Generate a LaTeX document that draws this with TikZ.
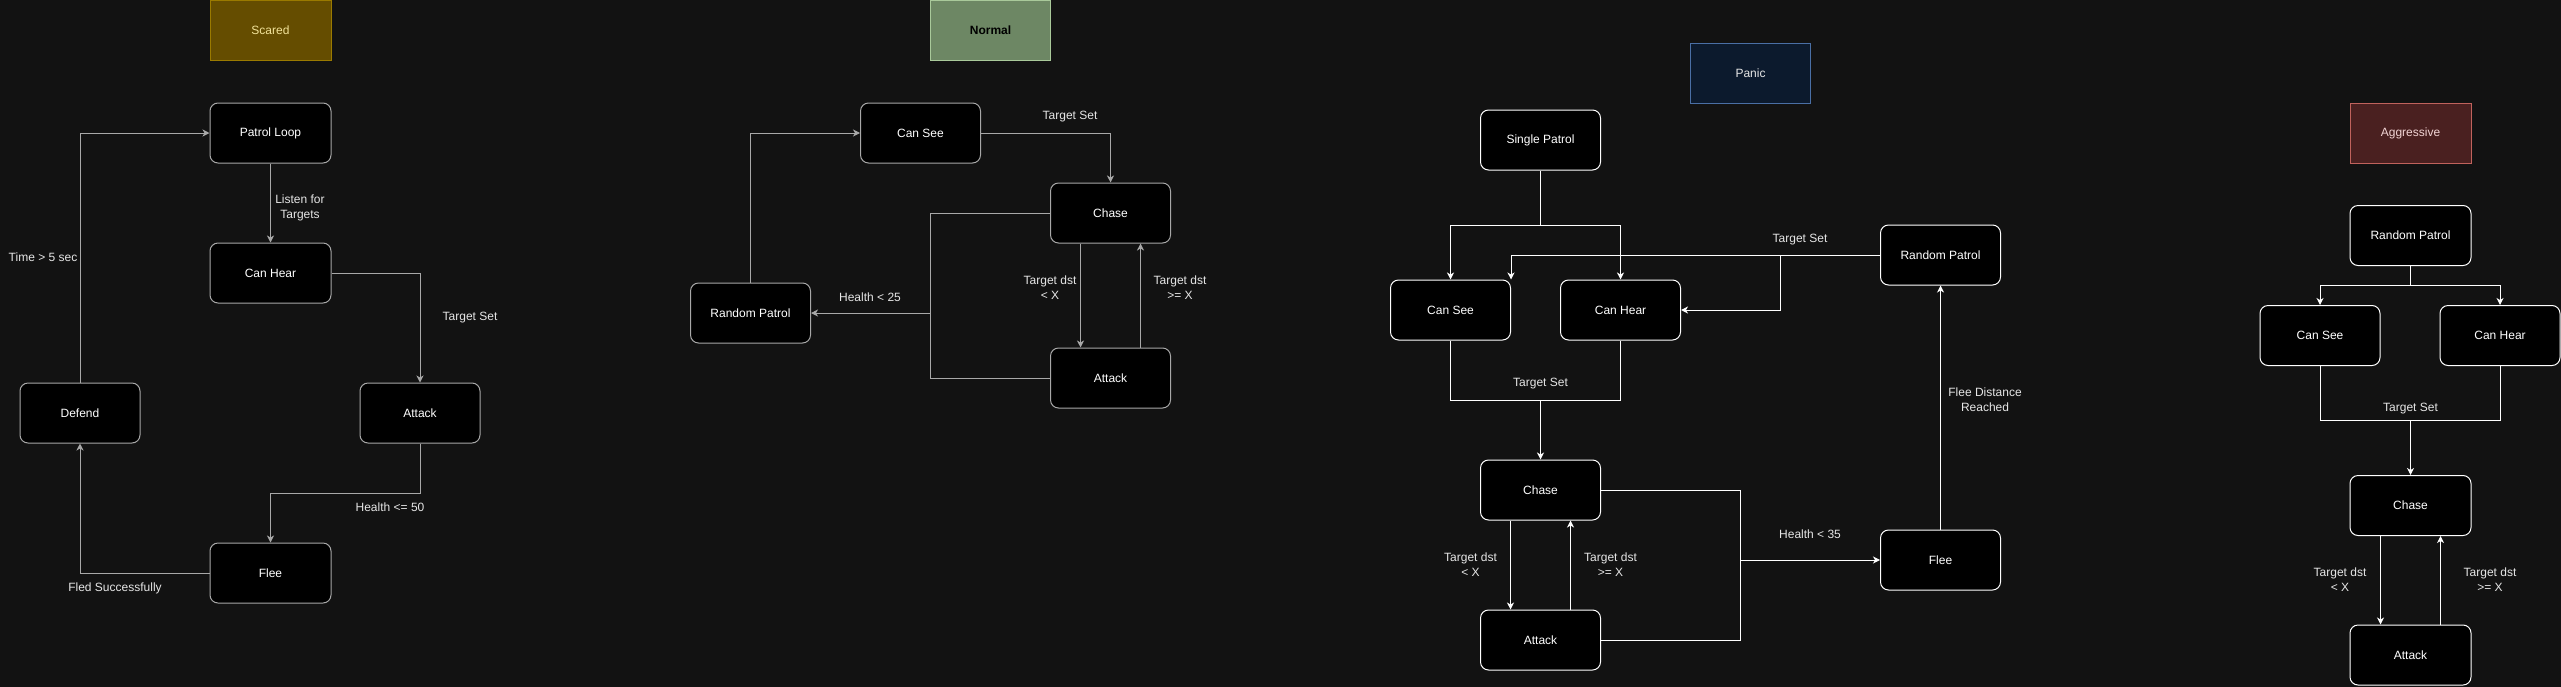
\documentclass[tikz,border=0pt]{standalone}
\usepackage{fontspec}
\setmainfont{Liberation Sans}
\usetikzlibrary{arrows.meta}
\definecolor{bgDark}{HTML}{121212}
\definecolor{lineGray}{HTML}{A8A8A8}
\definecolor{lblText}{HTML}{E6E6E6}
\definecolor{scaredFill}{HTML}{654D00}
\definecolor{scaredLine}{HTML}{9A7A00}
\definecolor{scaredText}{HTML}{F2E39A}
\definecolor{normalFill}{HTML}{6D8764}
\definecolor{normalLine}{HTML}{A9C99A}
\definecolor{panicFill}{HTML}{0C1A2D}
\definecolor{panicLine}{HTML}{4A6FA5}
\definecolor{aggrFill}{HTML}{4A2020}
\definecolor{aggrLine}{HTML}{C0625C}
\definecolor{aggrText}{HTML}{F2D4D4}
\tikzset{
	x=1pt,y=-1pt,
	every node/.style={font=\fontsize{12}{15}\selectfont},
	state/.style={draw=#1,fill=black,text=white,rounded corners=8pt,line width=1pt,inner sep=0pt,minimum width=120pt,minimum height=60pt},
	title/.style 2 args={draw=#1,fill=#2,line width=1pt,inner sep=0pt,minimum width=120pt,minimum height=60pt},
	lbl/.style={text=lblText,align=center,inner sep=0pt},
	flow/.style={draw=#1,line width=1pt,-{Stealth[length=7pt,width=7pt,inset=2pt]}},
	link/.style={draw=#1,line width=1pt},
}
\begin{document}
\begin{tikzpicture}
	\useasboundingbox (0,0) rectangle (2561,686);
	\fill[bgDark](-5,-5) rectangle (2566,691);
	% Scared
	\node[title={scaredLine}{scaredFill},minimum width=121pt,text=scaredText](stitle) at (270.5,30){Scared};
	\node[state=lineGray,minimum width=121pt](spatrol) at (270.5,133){Patrol Loop};
	\node[state=lineGray,minimum width=121pt](shear) at (270.5,273){Can Hear};
	\node[state=lineGray](sattack) at (420,413){Attack};
	\node[state=lineGray](sdefend) at (80,413){Defend};
	\node[state=lineGray,minimum width=121pt](sflee) at (270.5,573){Flee};
	\coordinate(sbend) at (270.5,493);
	\draw[flow=lineGray](spatrol)--(shear);
	\draw[flow=lineGray](shear.east)-|(sattack.north);
	\draw[flow=lineGray](sattack.south)|-(sbend)--(sflee.north);
	\draw[flow=lineGray](sflee.west)-|(sdefend.south);
	\draw[flow=lineGray](sdefend.north)|-(spatrol.west);
	\node[lbl](slisten) at (300,208){Listen for\\Targets};
	\node[lbl](sset) at (470,318){Target Set};
	\node[lbl](shealth) at (390,507){Health <= 50};
	\node[lbl](sfled) at (115,588){Fled Successfully};
	\node[lbl](stime) at (43,257){Time > 5 sec};
	% Normal
	\node[title={normalLine}{normalFill},text=black,font=\fontsize{12}{15}\selectfont\bfseries](ntitle) at (990.5,30.5){Normal};
	\node[state=lineGray](nsee) at (920.5,133){Can See};
	\node[state=lineGray](nchase) at (1110.5,213){Chase};
	\node[state=lineGray](nattack) at (1110.5,378){Attack};
	\node[state=lineGray](nrandom) at (750.5,313){Random Patrol};
	\coordinate(nmerge) at (930.5,313);
	\draw[flow=lineGray](nrandom.north)|-(nsee.west);
	\draw[flow=lineGray](nsee.east)-|(nchase.north);
	\draw[flow=lineGray]([xshift=-30pt]nchase.south)--([xshift=-30pt]nattack.north);
	\draw[flow=lineGray]([xshift=30pt]nattack.north)--([xshift=30pt]nchase.south);
	\draw[link=lineGray](nchase.west)-|(nmerge);
	\draw[link=lineGray](nattack.west)-|(nmerge);
	\draw[flow=lineGray](nmerge)--(nrandom.east);
	\node[lbl](nset) at (1070,117){Target Set};
	\node[lbl](nclose) at (1050,288){Target dst\\< X};
	\node[lbl](nfar) at (1180,288){Target dst\\>= X};
	\node[lbl](nhealth) at (870,297){Health < 25};
	% Panic
	\node[title={panicLine}{panicFill},text=lblText](ptitle) at (1750.5,73){Panic};
	\node[state=white](psingle) at (1540.5,140){Single Patrol};
	\node[state=white](psee) at (1450.5,310){Can See};
	\node[state=white](phear) at (1620.5,310){Can Hear};
	\node[state=white](prandom) at (1940.5,255){Random Patrol};
	\node[state=white](pchase) at (1540.5,490){Chase};
	\node[state=white](pattack) at (1540.5,640){Attack};
	\node[state=white](pflee) at (1940.5,560){Flee};
	\coordinate(psplit) at (1540.5,225);
	\coordinate(pbranch) at (1780.5,255);
	\coordinate(pjoin) at (1540.5,400);
	\coordinate(pmerge) at (1740.5,560);
	\draw[link=white](psingle.south)--(psplit);
	\draw[flow=white](psplit)-|(psee.north);
	\draw[flow=white](psplit)-|(phear.north);
	\draw[flow=white](prandom.west)-|(psee.north east);
	\draw[flow=white](pbranch)|-(phear.east);
	\draw[link=white](psee.south)|-(pjoin);
	\draw[link=white](phear.south)|-(pjoin);
	\draw[flow=white](pjoin)--(pchase.north);
	\draw[flow=white]([xshift=-30pt]pchase.south)--([xshift=-30pt]pattack.north);
	\draw[flow=white]([xshift=30pt]pattack.north)--([xshift=30pt]pchase.south);
	\draw[link=white](pchase.east)-|(pmerge);
	\draw[link=white](pattack.east)-|(pmerge);
	\draw[flow=white](pmerge)--(pflee.west);
	\draw[flow=white](pflee.north)--(prandom.south);
	\node[lbl](pset) at (1800,240){Target Set};
	\node[lbl](pseen) at (1540.5,384){Target Set};
	\node[lbl](pclose) at (1470.5,565){Target dst\\< X};
	\node[lbl](pfar) at (1610.5,565){Target dst\\>= X};
	\node[lbl](phealth) at (1810,534){Health < 35};
	\node[lbl](pdist) at (1985,400){Flee Distance\\Reached};
	% Aggressive
	\node[title={aggrLine}{aggrFill},minimum width=121pt,text=aggrText](atitle) at (2410.5,133){Aggressive};
	\node[state=white,minimum width=121pt](arandom) at (2410.5,235.5){Random Patrol};
	\node[state=white](asee) at (2320,335.5){Can See};
	\node[state=white](ahear) at (2500,335.5){Can Hear};
	\node[state=white,minimum width=121pt](achase) at (2410.5,505.5){Chase};
	\node[state=white,minimum width=121pt](aattack) at (2410.5,655){Attack};
	\coordinate(asplit) at (2410.5,285);
	\coordinate(ajoin) at (2410.5,420);
	\draw[link=white](arandom.south)--(asplit);
	\draw[flow=white](asplit)-|(asee.north);
	\draw[flow=white](asplit)-|(ahear.north);
	\draw[link=white](asee.south)|-(ajoin);
	\draw[link=white](ahear.south)|-(ajoin);
	\draw[flow=white](ajoin)--(achase.north);
	\draw[flow=white]([xshift=-30pt]achase.south)--([xshift=-30pt]aattack.north);
	\draw[flow=white]([xshift=30pt]aattack.north)--([xshift=30pt]achase.south);
	\node[lbl](aset) at (2410.5,409){Target Set};
	\node[lbl](aclose) at (2340,580){Target dst\\< X};
	\node[lbl](afar) at (2490,580){Target dst\\>= X};
\end{tikzpicture}
\end{document}
